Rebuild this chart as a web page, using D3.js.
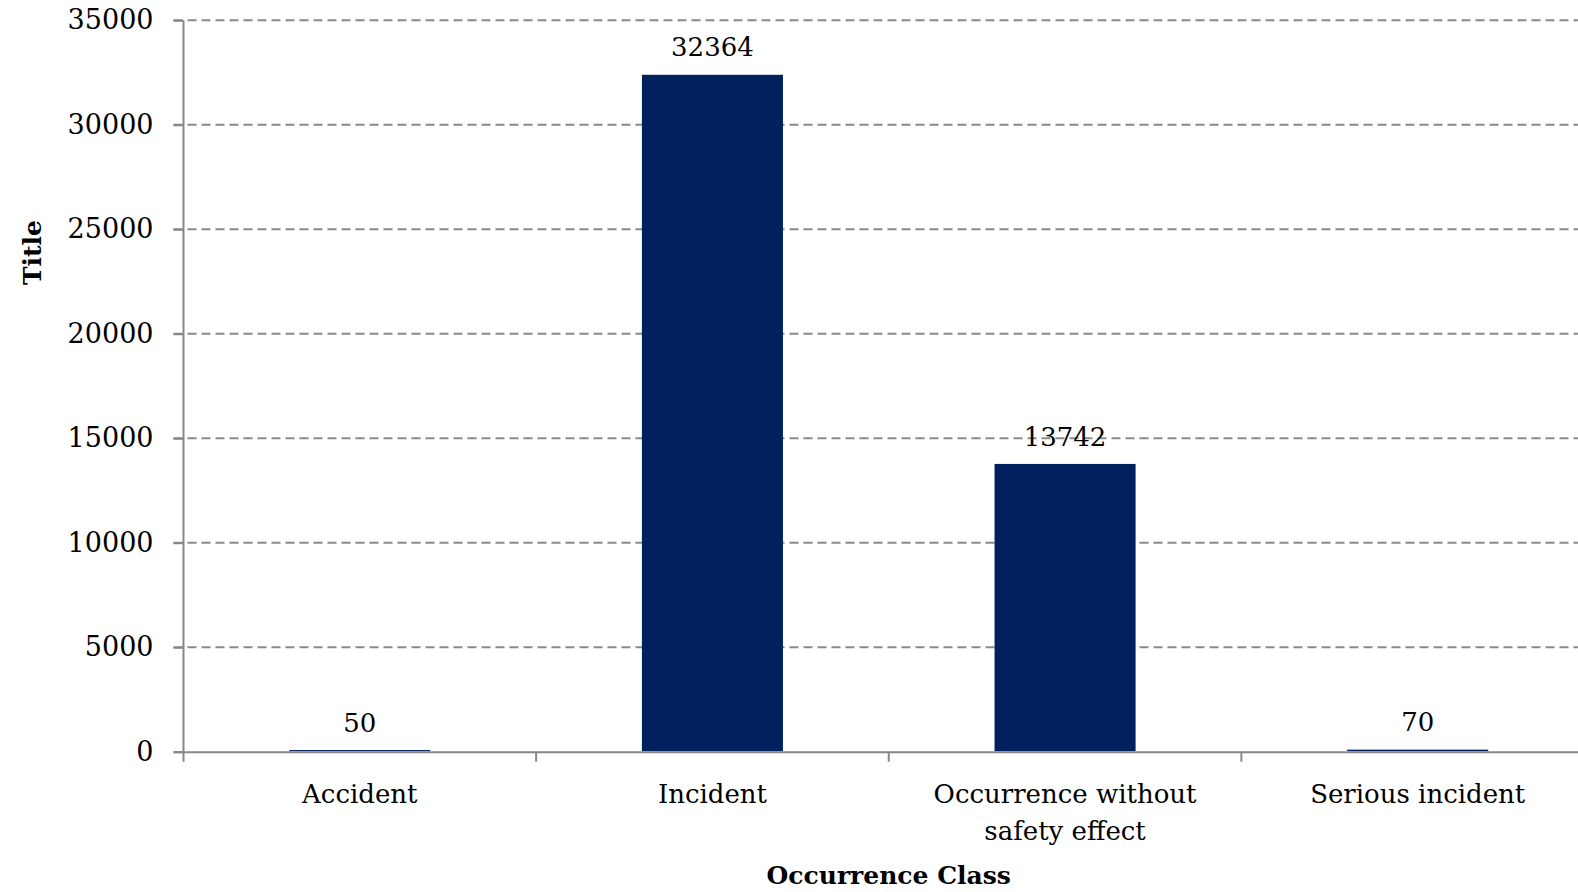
<!DOCTYPE html>
<html>
<head>
<meta charset="utf-8">
<script src="https://cdn.jsdelivr.net/npm/d3@7"></script>
<style>
  html, body { margin: 0; padding: 0; background: #ffffff; }
  svg { display: block; }
  text { font-family: "DejaVu Serif", "Liberation Serif", serif; fill: #000; }
</style>
</head>
<body>
<svg id="chart" width="1578" height="892"></svg>
<script>
// Occurrence counts per class
const categories = ["Accident", "Incident", "Occurrence without safety effect", "Serious incident"];
const counts = [50, 32364, 13742, 70];
const yTicks = [0, 5000, 10000, 15000, 20000, 25000, 30000, 35000];
const xTitle = "Occurrence Class";
const yTitle = "Title";

const W = 1578, H = 892;
const plot = { left: 183.5, right: 1594, top: 20.3, bottom: 751.7 };

const svg = d3.select("#chart");

const x = d3.scaleBand()
  .domain(categories)
  .range([plot.left, plot.right])
  .paddingInner(0.6)
  .paddingOuter(0.3);

const y = d3.scaleLinear()
  .domain([0, 35000])
  .range([plot.bottom, plot.top]);

const gridColor = "#8a8a8a";
const axisColor = "#878787";

// dashed horizontal gridlines
svg.append("g")
  .selectAll("line")
  .data(yTicks.filter(t => t !== 0))
  .join("line")
  .attr("x1", plot.left - 10)
  .attr("x2", W)
  .attr("y1", d => y(d))
  .attr("y2", d => y(d))
  .attr("stroke", gridColor)
  .attr("stroke-width", 2)
  .attr("stroke-dasharray", "9,5");

// x axis: baseline with ticks at category boundaries
const step = x.step();
const boundaries = d3.range(categories.length).map(i => plot.left + i * step);
const gx = svg.append("g");
gx.append("line")
  .attr("x1", plot.left - 10).attr("x2", W)
  .attr("y1", plot.bottom + 0.5).attr("y2", plot.bottom + 0.5)
  .attr("stroke", axisColor).attr("stroke-width", 2);
gx.selectAll("line.bound")
  .data(boundaries.slice(1))
  .join("line")
  .attr("class", "bound")
  .attr("x1", d => d).attr("x2", d => d)
  .attr("y1", plot.bottom).attr("y2", plot.bottom + 10)
  .attr("stroke", axisColor).attr("stroke-width", 2);

// bars
svg.append("g")
  .selectAll("rect")
  .data(categories)
  .join("rect")
  .attr("x", d => x(d))
  .attr("width", x.bandwidth())
  .attr("y", (d, i) => y(counts[i]) - 0.6)
  .attr("height", (d, i) => y(0) - y(counts[i]))
  .attr("fill", "#01205e");

// y axis
const yAxis = d3.axisLeft(y)
  .tickValues(yTicks)
  .tickSize(10)
  .tickPadding(20)
  .tickFormat(d3.format("d"));

const gy = svg.append("g")
  .attr("transform", `translate(${plot.left},0)`)
  .call(yAxis);
gy.select(".domain").attr("stroke", axisColor).attr("stroke-width", 2)
  .attr("d", `M0,${plot.top}V${plot.bottom + 10}`);
gy.selectAll(".tick line").attr("stroke", axisColor).attr("stroke-width", 2);
gy.selectAll(".tick text")
  .attr("font-size", 27)
  .attr("font-family", "DejaVu Serif")
  .attr("fill", "#000");

// category labels, wrapped to fit their slot
const labelG = svg.append("g");
categories.forEach(cat => {
  const cx = x(cat) + x.bandwidth() / 2;
  const t = labelG.append("text")
    .attr("x", cx)
    .attr("y", 803)
    .attr("text-anchor", "middle")
    .attr("font-size", 26);
  const words = cat.split(" ");
  let line = [];
  let tspan = t.append("tspan").attr("x", cx).attr("dy", 0);
  words.forEach(w => {
    line.push(w);
    tspan.text(line.join(" "));
    if (tspan.node().getComputedTextLength() > 300 && line.length > 1) {
      line.pop();
      tspan.text(line.join(" "));
      line = [w];
      tspan = t.append("tspan")
        .attr("x", cx)
        .attr("dy", 37)
        .text(w);
    }
  });
});

// value labels above bars
svg.append("g")
  .selectAll("text")
  .data(categories)
  .join("text")
  .attr("x", d => x(d) + x.bandwidth() / 2)
  .attr("y", (d, i) => y(counts[i]) - 19)
  .attr("text-anchor", "middle")
  .attr("font-size", 26)
  .text((d, i) => counts[i]);

// axis titles
svg.append("text")
  .attr("x", (plot.left + plot.right) / 2)
  .attr("y", 884)
  .attr("text-anchor", "middle")
  .attr("font-size", 25)
  .attr("font-weight", "bold")
  .text(xTitle);

svg.append("text")
  .attr("transform", `translate(41,252.5) rotate(-90)`)
  .attr("text-anchor", "middle")
  .attr("font-size", 25)
  .attr("font-weight", "bold")
  .text(yTitle);
</script>
</body>
</html>
